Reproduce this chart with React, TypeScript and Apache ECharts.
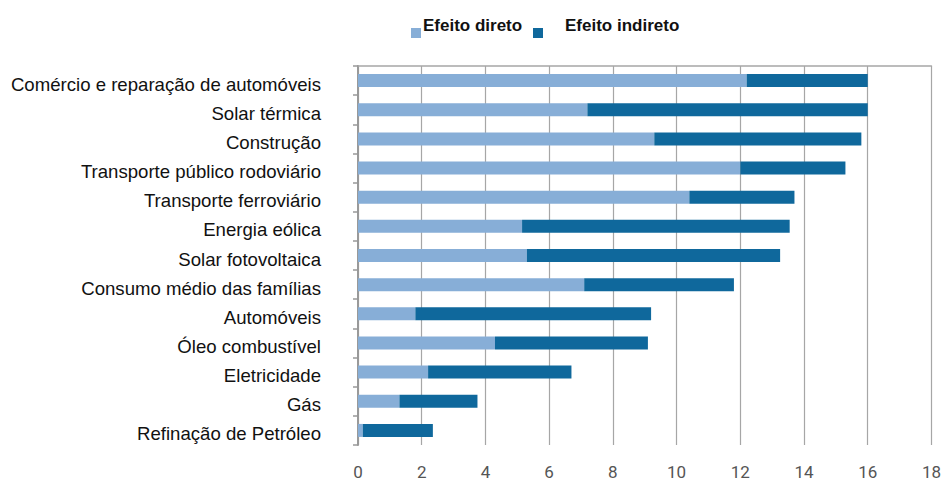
import React, { useEffect, useRef } from "react";
import * as echarts from "echarts";

const categories = [
  "Comércio e reparação de automóveis",
  "Solar térmica",
  "Construção",
  "Transporte público rodoviário",
  "Transporte ferroviário",
  "Energia eólica",
  "Solar fotovoltaica",
  "Consumo médio das famílias",
  "Automóveis",
  "Óleo combustível",
  "Eletricidade",
  "Gás",
  "Refinação de Petróleo",
];
const efeitoDireto = [12.2, 7.2, 9.3, 12.0, 10.4, 5.15, 5.3, 7.1, 1.8, 4.3, 2.2, 1.3, 0.15];
const efeitoIndireto = [3.8, 8.8, 6.5, 3.3, 3.3, 8.4, 7.95, 4.7, 7.4, 4.8, 4.5, 2.45, 2.2];
const seriesNames = ["Efeito direto", "Efeito indireto"];
const xTicks = [0, 2, 4, 6, 8, 10, 12, 14, 16, 18];

const LIGHT = "#87AED7";
const DARK = "#0F689C";

export default function App() {
  const ref = useRef<HTMLDivElement>(null);
  useEffect(() => {
    if (!ref.current) return;
    const chart = echarts.init(ref.current, null, { renderer: "svg" });
    chart.setOption({
      animation: false,
      backgroundColor: "#ffffff",
      grid: { left: 358, right: 11, top: 66, bottom: 34, containLabel: false },
      graphic: [
        { type: "rect", shape: { x: 411, y: 28, width: 10, height: 10 }, style: { fill: LIGHT } },
        {
          type: "text",
          x: 423,
          y: 25,
          style: {
            text: seriesNames[0],
            font: "bold 17px 'Liberation Sans', Arial, sans-serif",
            fill: "#111",
            verticalAlign: "middle",
          },
        },
        { type: "rect", shape: { x: 533, y: 28, width: 10, height: 10 }, style: { fill: DARK } },
        {
          type: "text",
          x: 565,
          y: 25,
          style: {
            text: seriesNames[1],
            font: "bold 17px 'Liberation Sans', Arial, sans-serif",
            fill: "#111",
            verticalAlign: "middle",
          },
        },
      ],
      xAxis: [
        {
          type: "value",
          min: 0,
          max: 18,
          interval: 2,
          position: "bottom",
          axisLine: { show: false },
          axisTick: { show: false },
          axisLabel: {
            color: "#555",
            fontSize: 17,
            fontFamily: "'Liberation Sans Narrow', 'Roboto', sans-serif",
            margin: 18,
            formatter: (v: number) => (xTicks.includes(v) ? String(v) : ""),
          },
          splitLine: { show: true, lineStyle: { color: "#a6a6a6", width: 1.2 } },
        },
        {
          type: "value",
          min: 0,
          max: 18,
          interval: 2,
          position: "top",
          axisLine: { show: true, lineStyle: { color: "#a6a6a6", width: 1.5 } },
          axisTick: { show: false },
          axisLabel: { show: false },
          splitLine: { show: false },
        },
      ],
      yAxis: {
        type: "category",
        data: categories,
        inverse: true,
        axisLine: { show: true, lineStyle: { color: "#999", width: 2 } },
        axisTick: { show: true, length: 5, lineStyle: { color: "#999", width: 1.5 } },
        axisLabel: {
          color: "#111",
          fontSize: 18.6,
          fontFamily: "'Liberation Sans', Arial, sans-serif",
          margin: 37,
          formatter: (v: string) => "{a|" + v + "}",
          rich: {
            a: {
              color: "#111",
              fontSize: 18.6,
              fontFamily: "'Liberation Sans', Arial, sans-serif",
              padding: [7, 0, 0, 0],
            },
          },
        },
      },
      series: [
        {
          name: seriesNames[0],
          type: "bar",
          stack: "total",
          data: efeitoDireto,
          barWidth: 13,
          itemStyle: { color: LIGHT },
        },
        {
          name: seriesNames[1],
          type: "bar",
          stack: "total",
          data: efeitoIndireto,
          barWidth: 13,
          itemStyle: { color: DARK },
        },
      ],
    });
    return () => chart.dispose();
  }, []);
  return <div ref={ref} style={{ width: 944, height: 480, position: "fixed", left: 0, top: 0 }} />;
}
